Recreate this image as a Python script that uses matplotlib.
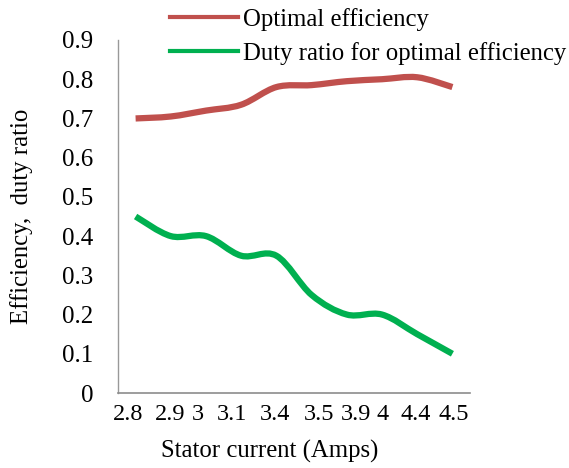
import matplotlib
matplotlib.use("Agg")
import matplotlib.pyplot as plt
from matplotlib.path import Path
from matplotlib.patches import PathPatch
from matplotlib.lines import Line2D
from matplotlib.transforms import ScaledTranslation
import numpy as np

categories = ["2.8", "2.9", "3", "3.1", "3.4", "3.5", "3.9", "4", "4.4", "4.5"]
optimal_eff = [0.70, 0.705, 0.72, 0.735, 0.78, 0.785, 0.795, 0.80, 0.805, 0.78]
duty_ratio = [0.45, 0.40, 0.40, 0.35, 0.35, 0.25, 0.20, 0.20, 0.15, 0.10]
yticks = [0, 0.1, 0.2, 0.3, 0.4, 0.5, 0.6, 0.7, 0.8, 0.9]

plt.rcParams['font.family'] = ['Liberation Serif', 'DejaVu Serif']

fig = plt.figure(figsize=(5.69, 4.68), dpi=100)
ax = fig.add_axes([118/569, 1-393/468, 352/569, 353/468])

def smooth_path(xs, ys):
    pts = np.column_stack([xs, ys]).astype(float)
    n = len(pts)
    verts = [pts[0]]
    codes = [Path.MOVETO]
    for i in range(n - 1):
        p0 = pts[i - 1] if i > 0 else pts[i]
        p1 = pts[i]
        p2 = pts[i + 1]
        p3 = pts[i + 2] if i + 2 < n else pts[i + 1]
        c1 = p1 + (p2 - p0) / 6.0
        c2 = p2 - (p3 - p1) / 6.0
        verts += [c1, c2, p2]
        codes += [Path.CURVE4] * 3
    return Path(verts, codes)

x = np.arange(len(categories))
red = "#C0504D"
green = "#00B050"
for ys, c in [(optimal_eff, red), (duty_ratio, green)]:
    patch = PathPatch(smooth_path(x, ys), facecolor="none", edgecolor=c,
                      lw=4.5, capstyle="butt", joinstyle="round")
    ax.add_patch(patch)

ax.set_xlim(-0.5, len(categories) - 0.5)
ax.set_ylim(0, 0.9)
ax.set_xticks(x)
ax.set_xticklabels(categories)
ax.set_yticks(yticks)
ax.set_yticklabels([f"{v:g}" for v in yticks])
ax.tick_params(axis="x", length=0, labelsize=17.5, pad=8)
ax.tick_params(axis="y", length=0, labelsize=18, pad=18)

# Excel-style uneven label placement (pixel nudges)
nudges = [-8, -1, -8, -9, -1, 7, 9, 1, -2, 1]
for lab, dx in zip(ax.get_xticklabels(), nudges):
    lab.set_transform(lab.get_transform() + ScaledTranslation(dx / 100, 0, fig.dpi_scale_trans))

for s in ["top", "right"]:
    ax.spines[s].set_visible(False)
ax.spines["left"].set_color("#999999")
ax.spines["left"].set_linestyle((0, (1, 1)))
ax.spines["left"].set_linewidth(1.0)
ax.spines["bottom"].set_color("#8c8c8c")
ax.spines["bottom"].set_linewidth(1.2)

ax.set_xlabel("Stator current (Amps)", fontsize=17.8)
ax.xaxis.set_label_coords(0.432, -0.133)
ax.set_ylabel("Efficiency,  duty ratio", fontsize=17.8)
ax.yaxis.set_label_coords(-0.2415, 0.5)

handles = [Line2D([], [], color=red, lw=3), Line2D([], [], color=green, lw=3)]
fig.legend(handles, ["Optimal efficiency", "Duty ratio for optimal efficiency"],
           loc="upper left", bbox_to_anchor=(160/569, 1.004), frameon=False,
           fontsize=17.8, handlelength=2.75, handletextpad=0.2, labelspacing=0.45,
           borderaxespad=0)

fig.savefig("out.png", dpi=100)
